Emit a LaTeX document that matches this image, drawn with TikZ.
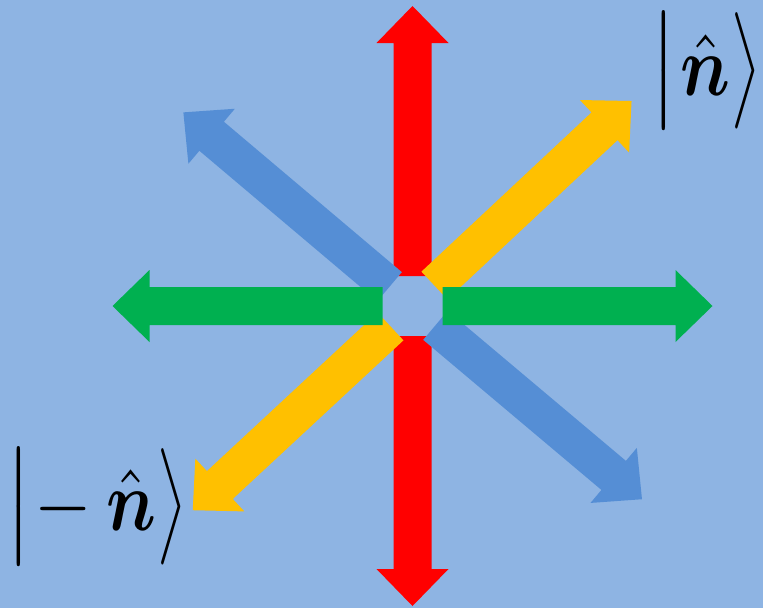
\documentclass[tikz,border=0pt]{standalone}
\usepackage{amsmath}
\usepackage{amsbsy}
\definecolor{bgblue}{HTML}{8EB4E3}
\definecolor{arblue}{HTML}{558ED5}
\definecolor{arred}{HTML}{FF0000}
\definecolor{aryellow}{HTML}{FFC000}
\definecolor{argreen}{HTML}{00B050}
\tikzset{
  ketlabel/.style={inner sep=0pt, anchor=west},
}
\newcommand{\kbar}{\scalebox{8}[9.7]{$\big|$}}
\newcommand{\kang}{\scalebox{6.5}[9.7]{$\big\rangle$}}
\newcommand{\knhat}{\scalebox{7.0}[8.6]{$\hat{\boldsymbol{n}}$}}
\newcommand{\kminus}{\scalebox{7.4}[8.6]{$-$}}
% arrow: #1 colour, #2 angle
\newcommand{\fatarrow}[2]{%
  \begin{scope}[shift={(ctr)}, rotate=#2]
    \fill[#1] (30,-19) -- (263,-19) -- (263,-36) -- (300,0) -- (263,36) -- (263,19) -- (30,19) -- cycle;
  \end{scope}}
\begin{document}
\begin{tikzpicture}[x=1pt,y=-1pt]
  \useasboundingbox (0,0) rectangle (763,608);
  \fill[bgblue] (0,0) rectangle (763,608);
  \coordinate (ctr) at (412.5,306);
  % red (vertical)
  \fatarrow{arred}{90}
  \fatarrow{arred}{-90}
  % blue (NW-SE)
  \fatarrow{arblue}{139.8}
  \fatarrow{arblue}{-40.1}
  % yellow (NE-SW)
  \fatarrow{aryellow}{43.1}
  \fatarrow{aryellow}{222.9}
  % green (horizontal)
  \fatarrow{argreen}{0}
  \fatarrow{argreen}{180}
  % labels
  \node[ketlabel] (ketn) at (650,71) {\kbar\hspace{4pt}\knhat\kang};
  \node[ketlabel] (ketmn) at (5,506.5) {\kbar\hspace{3pt}\kminus\hspace{14pt}\knhat\kang};
\end{tikzpicture}
\end{document}
